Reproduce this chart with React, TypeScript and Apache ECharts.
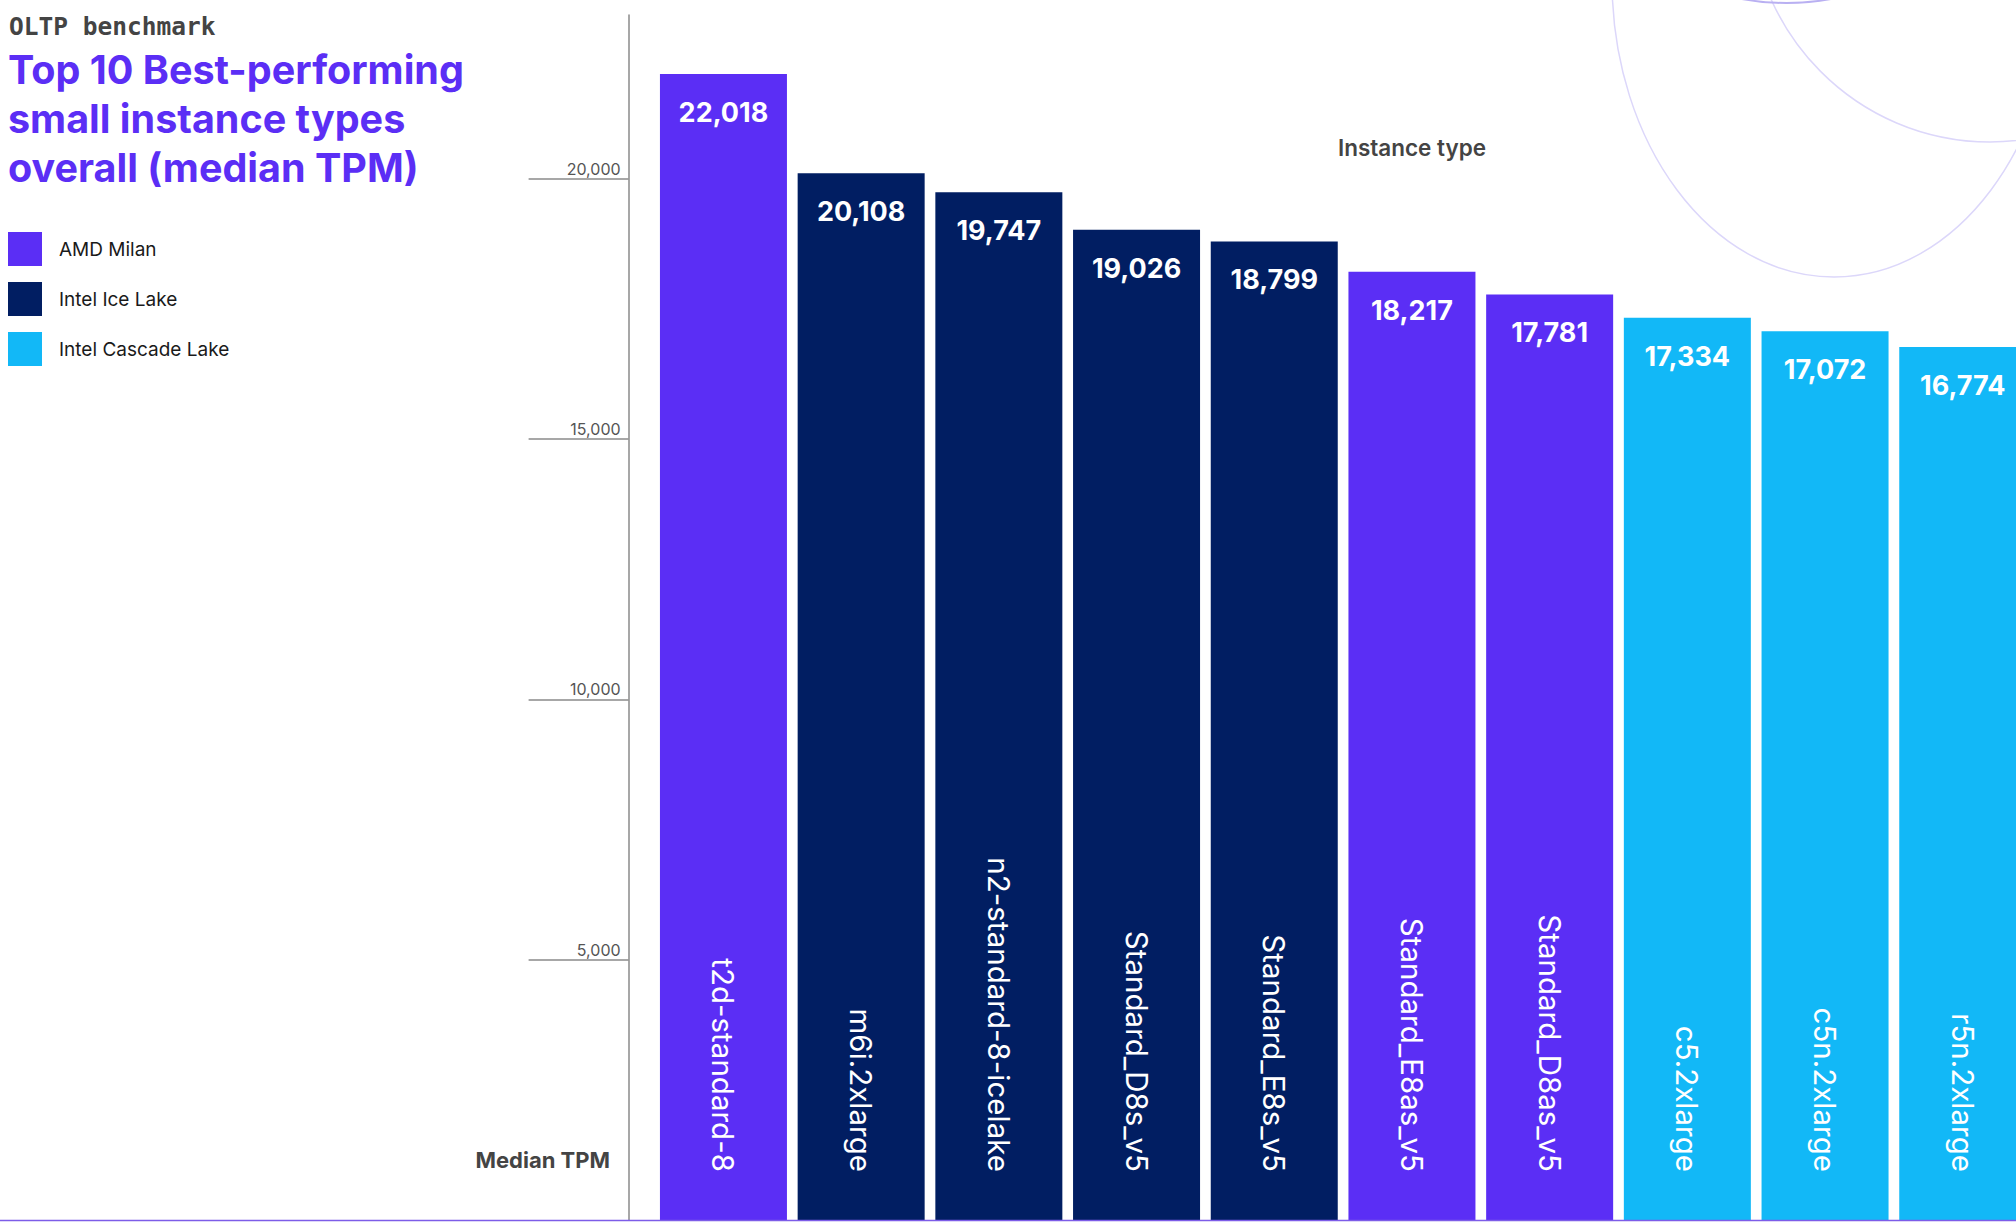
import React, { useEffect, useRef } from "react";
import * as echarts from "echarts";

const categories = [
  "t2d-standard-8",
  "m6i.2xlarge",
  "n2-standard-8-icelake",
  "Standard_D8s_v5",
  "Standard_E8s_v5",
  "Standard_E8as_v5",
  "Standard_D8as_v5",
  "c5.2xlarge",
  "c5n.2xlarge",
  "r5n.2xlarge",
];
const medianTPM = [22018, 20108, 19747, 19026, 18799, 18217, 17781, 17334, 17072, 16774];
const cpuFamily = [
  "AMD Milan",
  "Intel Ice Lake",
  "Intel Ice Lake",
  "Intel Ice Lake",
  "Intel Ice Lake",
  "AMD Milan",
  "AMD Milan",
  "Intel Cascade Lake",
  "Intel Cascade Lake",
  "Intel Cascade Lake",
];
const families = ["AMD Milan", "Intel Ice Lake", "Intel Cascade Lake"];
const familyColors = ["#5B2EF5", "#011E62", "#12B8F7"];
const yTicks = [5000, 10000, 15000, 20000];

const kicker = "OLTP benchmark";
const titleText = "Top 10 Best-performing\nsmall instance types\noverall (median TPM)";
const yName = "Median TPM";
const xName = "Instance type";

const fmt = (v: number) => Number(v).toLocaleString("en-US");

export default function App() {
  const ref = useRef<HTMLDivElement>(null);

  useEffect(() => {
    if (!ref.current) return;
    const chart = echarts.init(ref.current, undefined, { renderer: "svg" });

    const series = families.map((f, i) => ({
      type: "bar",
      name: f,
      data: medianTPM.map((v, j) => (cpuFamily[j] === f ? v : "-")),
      barWidth: 127,
      barGap: "-100%",
      itemStyle: { color: familyColors[i] },
      label: {
        show: true,
        position: "insideTop",
        distance: 25,
        color: "#ffffff",
        fontSize: 27,
        fontWeight: "bold",
        fontFamily: "Inter",
        formatter: (p: any) => fmt(p.value),
      },
    }));

    chart.setOption({
      animation: false,
      backgroundColor: "#ffffff",
      grid: { left: 654.6, width: 1377, top: 15, bottom: 11, containLabel: false },
      legend: {
        orient: "vertical",
        left: 8,
        top: 232,
        padding: 0,
        itemWidth: 34,
        itemHeight: 34,
        itemGap: 16,
        icon: "rect",
        selectedMode: false,
        data: families,
        textStyle: {
          fontSize: 19,
          color: "#1a1a1a",
          fontFamily: "Inter",
          padding: [0, 0, 0, 12],
        },
      },
      xAxis: {
        type: "category",
        data: categories,
        z: 10,
        axisLine: { show: false },
        axisTick: { show: false },
        axisLabel: {
          inside: true,
          rotate: -90,
          margin: 48,
          color: "#ffffff",
          fontSize: 29.5,
          fontFamily: "Inter",
          interval: 0,
        },
      },
      yAxis: {
        type: "value",
        min: 0,
        max: 23150,
        offset: 26,
        splitLine: { show: false },
        axisLine: { show: true, lineStyle: { color: "#8a8a8a", width: 1.5 } },
        axisTick: {
          show: true,
          customValues: yTicks,
          length: 100,
          lineStyle: { color: "#8a8a8a", width: 1.5 },
        },
        axisLabel: {
          customValues: yTicks,
          formatter: (v: number) => fmt(v),
          color: "#555555",
          fontSize: 16,
          fontFamily: "Inter",
          margin: 8,
          verticalAlign: "bottom",
          padding: [0, 0, 2, 0],
        },
      },
      series,
    });

    const y0 = chart.convertToPixel({ yAxisIndex: 0 }, 0) as number;

    chart.setOption({
      graphic: {
        elements: [
          {
            type: "ellipse",
            z: 0,
            silent: true,
            shape: { cx: 1834, cy: -20, rx: 222, ry: 297 },
            style: { fill: "none", stroke: "#dcd7fa", lineWidth: 1.5 },
          },
          {
            type: "ellipse",
            z: 0,
            silent: true,
            shape: { cx: 1990, cy: -100, rx: 240, ry: 242 },
            style: { fill: "none", stroke: "#dcd7fa", lineWidth: 1.5 },
          },
          {
            type: "circle",
            z: 0,
            silent: true,
            shape: { cx: 1786, cy: -240, r: 243 },
            style: { fill: "none", stroke: "#b9b0f2", lineWidth: 2 },
          },
          {
            type: "text",
            left: 9,
            top: 14,
            style: {
              text: kicker,
              fontFamily: "DejaVu Sans Mono",
              fontWeight: "bold",
              fontSize: 24.5,
              fill: "#444444",
            },
          },
          {
            type: "text",
            left: 8,
            top: 45.5,
            style: {
              text: titleText,
              fontFamily: "Inter",
              fontWeight: "bold",
              fontSize: 39.5,
              lineHeight: 49,
              fill: "#5B2EF5",
            },
          },
          {
            type: "text",
            x: 610,
            y: 1160,
            style: {
              text: yName,
              fontFamily: "Inter",
              fontWeight: "bold",
              fontSize: 22,
              fill: "#444444",
              align: "right",
              verticalAlign: "middle",
            },
          },
          {
            type: "text",
            x: 1412,
            y: 147,
            style: {
              text: xName,
              fontFamily: "Inter",
              fontWeight: 600,
              fontSize: 22.5,
              fill: "#444444",
              align: "center",
              verticalAlign: "middle",
            },
          },
          {
            type: "line",
            z: 100,
            silent: true,
            shape: { x1: 0, y1: y0 + 0.5, x2: 2016, y2: y0 + 0.5 },
            style: { stroke: "#7d5ce8", lineWidth: 1.5 },
          },
        ],
      },
    });

    return () => chart.dispose();
  }, []);

  return (
    <div
      style={{
        position: "fixed",
        left: 0,
        top: 0,
        width: 2016,
        height: 1231,
        overflow: "hidden",
        background: "#fff",
      }}
    >
      <div ref={ref} style={{ position: "absolute", left: 0, top: 0, width: 2040, height: 1231 }} />
    </div>
  );
}
